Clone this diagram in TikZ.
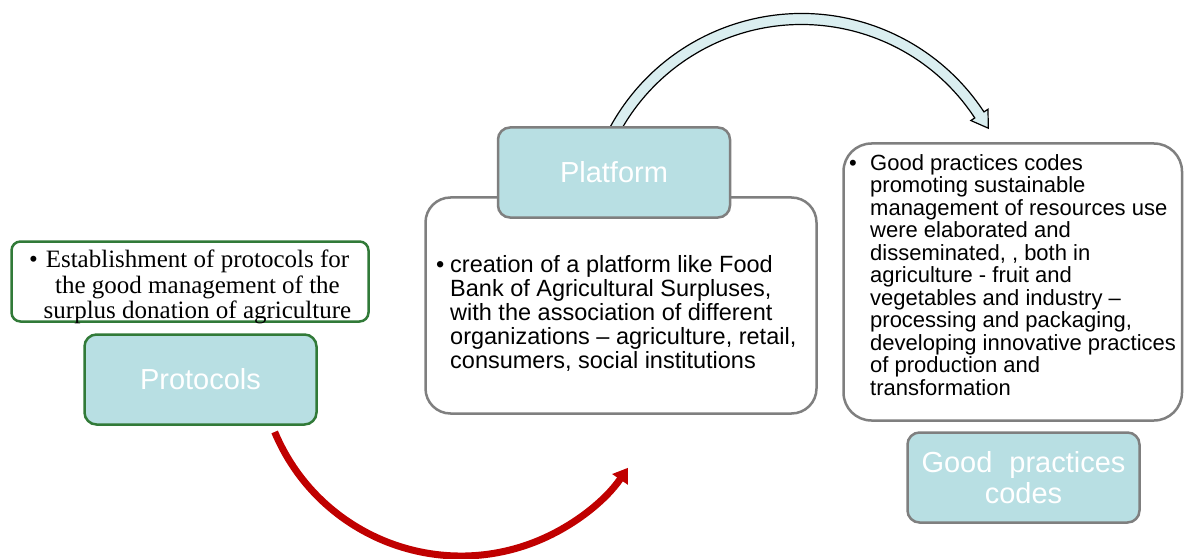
\documentclass[tikz,border=0pt]{standalone}
\usepackage{fontspec}
\setmainfont{Liberation Sans}
\newfontfamily\timesfont{Liberation Serif}
\usepackage{xcolor}
\definecolor{pptteal}{RGB}{184,223,227}
\definecolor{pptgreen}{RGB}{49,122,56}
\definecolor{pptgray}{RGB}{127,127,127}
\definecolor{pptred}{RGB}{192,0,0}
\definecolor{pptarrow}{RGB}{218,238,240}
\usetikzlibrary{arrows.meta, calc}

\newcommand\widespaces[1]{\spaceskip=#1\relax}

\tikzset{
  titlebox/.style={draw=pptgray, line width=2.5pt, fill=pptteal, rounded corners=12pt,
    text=white, font=\fontsize{29}{31}\selectfont, align=center, inner sep=0pt,
    minimum width=232pt, minimum height=90pt},
  descbox/.style={draw=pptgray, line width=2.5pt, fill=white, rounded corners=25pt, inner sep=0pt},
  bodytext/.style={font=\fontsize{23.5}{24}\selectfont, align=left, inner sep=0pt, anchor=north west}
}

\begin{document}
\begin{tikzpicture}[x=1pt, y=-1pt]
\useasboundingbox (0,0) rectangle (1184,559);

% === Protocols (left) ===
\node[descbox, draw=pptgreen, rounded corners=9pt, minimum width=357pt,
      minimum height=80pt] (protodesc) at (190,281.5) {};
\node[bodytext, anchor=north, align=center,
      font={\timesfont\fontsize{25}{25.5}\selectfont}] (prototext) at (197.5,250)
     {\llap{\textbullet\hspace{8pt}}Establishment of protocols for\\
      the good management of the\\
      surplus donation of agriculture};
\node[titlebox, draw=pptgreen] (protocols) at (200.5,379.5) {Protocols};

% red arrow under the boxes
\coordinate (redcentre) at (461,354);
\draw[pptred, line width=7pt, -{Triangle[length=14pt, width=18pt]}]
     ($(redcentre)+(157.3:202)$) arc[start angle=157.3, end angle=34.3, radius=202];

% === Platform (middle) ===
\node[descbox, minimum width=391pt, minimum height=216pt] (platdesc) at (621,305.5) {};
\node[bodytext] (plattext) at (436,255)
     {\makebox[14pt][l]{\textbullet}creation of a platform like Food\\
      \hspace*{14pt}Bank of Agricultural Surpluses,\\
      \hspace*{14pt}with the association of different\\
      \hspace*{14pt}organizations -- agriculture, retail,\\
      \hspace*{14pt}consumers, social institutions};

% block arrow over the top
\coordinate (bluecentre) at (801.6,231.7);
\filldraw[fill=pptarrow, draw=black, line width=1.2pt, line join=miter]
     ($(bluecentre)+(207:218.2)$) arc[start angle=207, end angle=326.7, radius=218.2]
     -- ($(bluecentre)+(326.7:223)$) -- ($(bluecentre)+(331:213.5)$)
     -- ($(bluecentre)+(326.7:202.5)$) -- ($(bluecentre)+(326.7:207.2)$)
     arc[start angle=326.7, end angle=207, radius=207.2] -- cycle;

\node[titlebox] (platform) at (614,172.5) {Platform};

% === Good practices codes (right) ===
\node[descbox, rounded corners=28pt, minimum width=338.5pt,
      minimum height=277pt] (gooddesc) at (1012.75,282) {};
\node[bodytext, font=\fontsize{22}{22.5}\selectfont] (goodtext) at (849,154)
     {\makebox[21pt][l]{\textbullet}Good practices codes\\
      \hspace*{21pt}promoting sustainable\\
      \hspace*{21pt}management of resources use\\
      \hspace*{21pt}were elaborated and\\
      \hspace*{21pt}disseminated, , both in\\
      \hspace*{21pt}agriculture - fruit and\\
      \hspace*{21pt}vegetables and industry --\\
      \hspace*{21pt}processing and packaging,\\
      \hspace*{21pt}developing innovative practices\\
      \hspace*{21pt}of production and\\
      \hspace*{21pt}transformation};
\node[titlebox, font={\fontsize{29}{31}\selectfont\widespaces{17pt}}] (goodcodes) at (1023.5,477.5)
     {Good practices\\codes};

\end{tikzpicture}
\end{document}
